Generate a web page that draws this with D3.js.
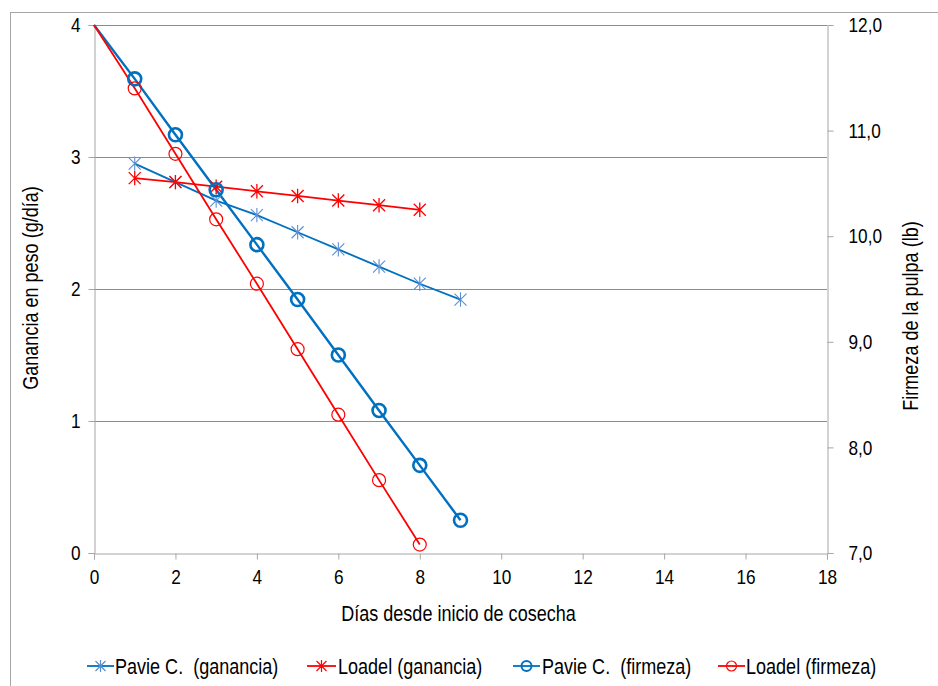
<!DOCTYPE html>
<html><head><meta charset="utf-8">
<script src="https://cdn.jsdelivr.net/npm/d3@7"></script>
<style>
html,body{margin:0;padding:0;background:#fff;}
svg text{font-family:"Liberation Sans",Arial,sans-serif;fill:#000;white-space:pre;}
</style></head>
<body>
<svg id="c" width="938" height="686"></svg>
<script>
// Data
const days = [1,2,3,4,5,6,7,8,9];
const paviaGanancia = [2.95,2.81,2.67,2.56,2.43,2.30,2.17,2.04,1.92];
const loadelDays = [1,2,3,4,5,6,7,8];
const loadelGanancia = [2.84,2.81,2.775,2.74,2.705,2.67,2.635,2.60];
const firmezaStart = 12.0; // day 0
const paviaFirmeza = [11.49,10.96,10.44,9.92,9.40,8.875,8.35,7.83,7.31];
const loadelFirmeza = [11.40,10.78,10.16,9.55,8.93,8.31,7.69,7.08];
const xTicks = [0,2,4,6,8,10,12,14,16,18];
const yLeftTicks = [0,1,2,3,4];
const yRightTicks = [7,8,9,10,11,12];
const legendLabels = ["Pavie C.  (ganancia)","Loadel (ganancia)","Pavie C.  (firmeza)","Loadel (firmeza)"];

const svg = d3.select("#c");
const L = 94, R = 827, T = 25, B = 553;
const x = d3.scaleLinear().domain([0,18]).range([L,R]);
const yL = d3.scaleLinear().domain([0,4]).range([B,T]);
const yR = d3.scaleLinear().domain([7,12]).range([B,T]);

const blue = "#0070C0", red = "#FF0000", blueMk = "#5B8FD4";
const fmtComma = d => d.toFixed(1).replace(".", ",");
const NARROW = 0.82;

// condense text horizontally (Arial Narrow look) while keeping it real text
function narrow(sel){
  sel.each(function(){
    const t = d3.select(this);
    const tx = +(t.attr("x")||0), ty = +(t.attr("y")||0);
    const prev = t.attr("transform")||"";
    t.attr("x",0).attr("y",0)
     .attr("transform",`${prev} translate(${tx},${ty}) scale(${NARROW},1)`);
  });
}

// outer border
svg.append("rect").attr("x",10.5).attr("y",12.5).attr("width",960).attr("height",700)
  .attr("fill","none").attr("stroke","#a6a6a6").attr("stroke-width",1);

// gridlines
svg.append("g").selectAll("line").data(yLeftTicks.filter(d=>d>0)).join("line")
  .attr("x1",L).attr("x2",R).attr("y1",d=>Math.round(yL(d))+0.5).attr("y2",d=>Math.round(yL(d))+0.5)
  .attr("stroke","#8c8c8c").attr("stroke-width",1);

// axes
const axL = svg.append("g").attr("transform",`translate(${L+0.5},0)`)
  .call(d3.axisLeft(yL).tickValues(yLeftTicks).tickFormat(d3.format("d")).tickSize(6).tickPadding(8));
const axB = svg.append("g").attr("transform",`translate(0,${B+0.5})`)
  .call(d3.axisBottom(x).tickValues(xTicks).tickFormat(d3.format("d")).tickSize(6).tickPadding(10));
const axR = svg.append("g").attr("transform",`translate(${R+0.5},0)`)
  .call(d3.axisRight(yR).tickValues(yRightTicks).tickFormat(fmtComma).tickSize(6).tickPadding(15));
[axL,axB,axR].forEach(a=>{
  a.selectAll("path").attr("stroke","#a6a6a6");
  a.selectAll("line").attr("stroke","#a6a6a6");
  a.selectAll("text").attr("font-size",21).attr("fill","#000").call(narrow);
});

// axis titles
svg.append("text").attr("x",(L+R)/2 - 2).attr("y",621).attr("text-anchor","middle")
  .attr("font-size",22).text("Días desde inicio de cosecha").call(narrow);
svg.append("text").attr("transform","translate(38,288) rotate(-90)").attr("text-anchor","middle")
  .attr("font-size",22).text("Ganancia en peso (g/día)").call(narrow);
svg.append("text").attr("transform","translate(918,316) rotate(-90)").attr("text-anchor","middle")
  .attr("font-size",22).text("Firmeza de la pulpa (lb)").call(narrow);

// helpers
function star(g, cx, cy, color, s, w){
  const p = `M${cx-s},${cy-s}L${cx+s},${cy+s}M${cx-s},${cy+s}L${cx+s},${cy-s}M${cx},${cy-s*1.2}L${cx},${cy+s*1.2}`;
  g.append("path").attr("d",p).attr("stroke",color).attr("stroke-width",w||1.2).attr("fill","none");
}
function circ(g, cx, cy, color, w){
  g.append("circle").attr("cx",cx).attr("cy",cy).attr("r",6.5).attr("fill","none")
    .attr("stroke",color).attr("stroke-width",w);
}
const line = d3.line();

// series data
const pgPts = days.map((d,i)=>[x(d), yL(paviaGanancia[i])]);
const lgPts = loadelDays.map((d,i)=>[x(d), yL(loadelGanancia[i])]);
const pfPts = [[x(0), yR(firmezaStart)]].concat(days.map((d,i)=>[x(d), yR(paviaFirmeza[i])]));
const lfPts = [[x(0), yR(firmezaStart)]].concat(loadelDays.map((d,i)=>[x(d), yR(loadelFirmeza[i])]));

const g = svg.append("g");
g.append("path").attr("d",line(pgPts)).attr("fill","none").attr("stroke",blue).attr("stroke-width",1.8);
g.append("path").attr("d",line(lgPts)).attr("fill","none").attr("stroke",red).attr("stroke-width",1.8);
g.append("path").attr("d",line(pfPts)).attr("fill","none").attr("stroke",blue).attr("stroke-width",2.4);
g.append("path").attr("d",line(lfPts)).attr("fill","none").attr("stroke",red).attr("stroke-width",1.8);

pgPts.forEach(p=>star(g,p[0],p[1],blueMk,6,1.1));
lgPts.forEach(p=>star(g,p[0],p[1],red,6,1.3));
pfPts.slice(1).forEach(p=>circ(g,p[0],p[1],blue,2.6));
lfPts.slice(1).forEach(p=>circ(g,p[0],p[1],red,1.2));

// legend
const legY = 666;
const legItems = [
  {x0:87,x1:114,tx:115,color:blue,mk:"star",mc:blueMk},
  {x0:307,x1:336,tx:338,color:red,mk:"star",mc:red},
  {x0:513,x1:540,tx:542,color:blue,mk:"circ",mc:blue},
  {x0:718,x1:745,tx:746,color:red,mk:"circ",mc:red}
];
const lg = svg.append("g");
legItems.forEach((it,i)=>{
  lg.append("line").attr("x1",it.x0).attr("x2",it.x1).attr("y1",legY).attr("y2",legY)
    .attr("stroke",it.color).attr("stroke-width",1.8);
  const cx=(it.x0+it.x1)/2;
  if(it.mk==="star") star(lg,cx,legY,it.mc,5,1.2);
  else lg.append("circle").attr("cx",cx).attr("cy",legY).attr("r",5).attr("fill","none")
        .attr("stroke",it.mc).attr("stroke-width",i===2?2:1.2);
  lg.append("text").attr("x",it.tx).attr("y",legY+7.5).attr("font-size",22)
    .text(legendLabels[i]).call(narrow);
});
</script>
</body></html>
